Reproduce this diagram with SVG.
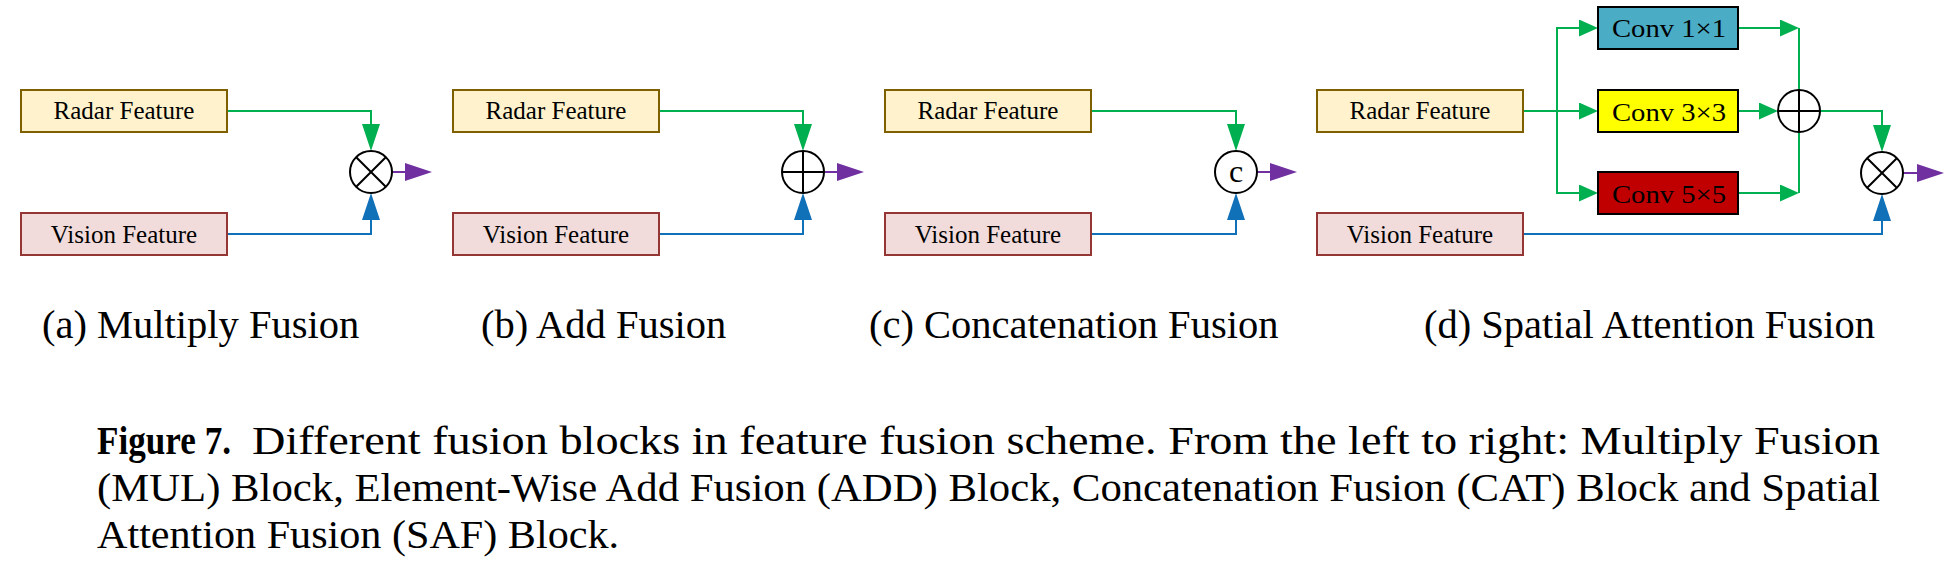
<svg xmlns="http://www.w3.org/2000/svg" width="1953" height="575" viewBox="0 0 1953 575">
<style>
.radar{fill:#FFF2CC;stroke:#7F6000;stroke-width:2}
.vision{fill:#F2DCDB;stroke:#943634;stroke-width:2}
.conv{stroke:#000;stroke-width:2}
.lbl{font-family:"Liberation Serif","Times New Roman",serif;font-size:25px;fill:#000;text-anchor:middle}
.clbl{font-family:"Liberation Serif","Times New Roman",serif;font-size:26px;fill:#000}
.op{fill:#fff;stroke:#000;stroke-width:2}
.opl{stroke:#000;stroke-width:2;fill:none}
.sub{font-family:"Liberation Serif","Times New Roman",serif;font-size:40.5px;fill:#000}
.cap{font-family:"Liberation Serif","Times New Roman",serif;font-size:40px;fill:#000}
.g{fill:none;stroke:#00B050;stroke-width:2}
.b{fill:none;stroke:#1070B8;stroke-width:2}
.p{fill:none;stroke:#7030A0;stroke-width:2}
</style>
<defs>
<marker id="ag" markerUnits="userSpaceOnUse" markerWidth="27" markerHeight="18" refX="24" refY="9" orient="auto"><path d="M0,0 L27,9 L0,18 z" fill="#00B050"/></marker>
<marker id="agh" markerUnits="userSpaceOnUse" markerWidth="19" markerHeight="17" refX="16" refY="8.5" orient="auto"><path d="M0,0 L19,8.5 L0,17 z" fill="#00B050"/></marker>
<marker id="ab" markerUnits="userSpaceOnUse" markerWidth="27" markerHeight="18" refX="24" refY="9" orient="auto"><path d="M0,0 L27,9 L0,18 z" fill="#1070B8"/></marker>
<marker id="ap" markerUnits="userSpaceOnUse" markerWidth="27" markerHeight="18" refX="24" refY="9" orient="auto"><path d="M0,0 L27,9 L0,18 z" fill="#7030A0"/></marker>
</defs>
<rect width="1953" height="575" fill="#fff"/>

<g id="connectors">
<path class="g" d="M227,111 H371 V148" marker-end="url(#ag)"/>
<path class="b" d="M227,234 H371 V196" marker-end="url(#ab)"/>
<path class="p" d="M392,172 H429" marker-end="url(#ap)"/>

<path class="g" d="M659,111 H803 V148" marker-end="url(#ag)"/>
<path class="b" d="M659,234 H803 V196" marker-end="url(#ab)"/>
<path class="p" d="M824,172 H861" marker-end="url(#ap)"/>

<path class="g" d="M1091,111 H1236 V148" marker-end="url(#ag)"/>
<path class="b" d="M1091,234 H1236 V196" marker-end="url(#ab)"/>
<path class="p" d="M1257,172 H1294" marker-end="url(#ap)"/>

<path class="g" d="M1523,111 H1595" marker-end="url(#agh)"/>
<path class="g" d="M1557,111 V28 H1595" marker-end="url(#agh)"/>
<path class="g" d="M1557,111 V193 H1595" marker-end="url(#agh)"/>
<path class="g" d="M1738,28 H1796" marker-end="url(#agh)"/>
<path class="g" d="M1738,193 H1796" marker-end="url(#agh)"/>
<path class="g" d="M1738,111 H1775" marker-end="url(#agh)"/>
<path class="g" d="M1799,28 V193"/>
<path class="g" d="M1820,111 H1882 V149" marker-end="url(#ag)"/>
<path class="b" d="M1523,234 H1882 V197" marker-end="url(#ab)"/>
<path class="p" d="M1903,173 H1941" marker-end="url(#ap)"/>
</g>

<g id="a-radar"><rect class="radar" x="21" y="90" width="206" height="42"/><text class="lbl" x="124" y="119">Radar Feature</text></g>
<g id="a-vision"><rect class="vision" x="21" y="213" width="206" height="42"/><text class="lbl" x="124" y="243">Vision Feature</text></g>
<g id="a-mul"><circle class="op" cx="371" cy="172" r="21"/><path class="opl" d="M356.2,157.2 L385.8,186.8 M385.8,157.2 L356.2,186.8"/></g>

<g id="b-radar"><rect class="radar" x="453" y="90" width="206" height="42"/><text class="lbl" x="556" y="119">Radar Feature</text></g>
<g id="b-vision"><rect class="vision" x="453" y="213" width="206" height="42"/><text class="lbl" x="556" y="243">Vision Feature</text></g>
<g id="b-add"><circle class="op" cx="803" cy="172" r="21"/><path class="opl" d="M782,172 H824 M803,151 V193"/></g>

<g id="c-radar"><rect class="radar" x="885" y="90" width="206" height="42"/><text class="lbl" x="988" y="119">Radar Feature</text></g>
<g id="c-vision"><rect class="vision" x="885" y="213" width="206" height="42"/><text class="lbl" x="988" y="243">Vision Feature</text></g>
<g id="c-cat"><circle class="op" cx="1236" cy="172" r="21"/><text class="lbl" x="1236" y="182" style="font-size:32px">c</text></g>

<g id="d-radar"><rect class="radar" x="1317" y="90" width="206" height="42"/><text class="lbl" x="1420" y="119">Radar Feature</text></g>
<g id="d-vision"><rect class="vision" x="1317" y="213" width="206" height="42"/><text class="lbl" x="1420" y="243">Vision Feature</text></g>
<g id="d-conv1"><rect class="conv" x="1598" y="7" width="140" height="42" fill="#4BACC6"/><text class="clbl" x="1612" y="37" textLength="114" lengthAdjust="spacingAndGlyphs">Conv 1×1</text></g>
<g id="d-conv3"><rect class="conv" x="1598" y="90" width="140" height="42" fill="#FFFF00"/><text class="clbl" x="1612" y="121" textLength="114" lengthAdjust="spacingAndGlyphs">Conv 3×3</text></g>
<g id="d-conv5"><rect class="conv" x="1598" y="172" width="140" height="42" fill="#C00000"/><text class="clbl" x="1612" y="203" textLength="114" lengthAdjust="spacingAndGlyphs">Conv 5×5</text></g>
<g id="d-add"><circle class="op" cx="1799" cy="111" r="21"/><path class="opl" d="M1778,111 H1820 M1799,90 V132"/></g>
<g id="d-mul"><circle class="op" cx="1882" cy="173" r="21"/><path class="opl" d="M1867.2,158.2 L1896.8,187.8 M1896.8,158.2 L1867.2,187.8"/></g>

<g id="subcaptions">
<text class="sub" x="42" y="338">(a) Multiply Fusion</text>
<text class="sub" x="481" y="338">(b) Add Fusion</text>
<text class="sub" x="869" y="338">(c) Concatenation Fusion</text>
<text class="sub" x="1424" y="338">(d) Spatial Attention Fusion</text>
</g>

<g id="caption">
<text class="cap" x="97" y="454" font-weight="bold" textLength="134" lengthAdjust="spacingAndGlyphs">Figure 7.</text>
<text class="cap" x="252" y="454" textLength="1628" lengthAdjust="spacingAndGlyphs">Different fusion blocks in feature fusion scheme.  From the left to right: Multiply Fusion</text>
<text class="cap" x="97" y="501" textLength="1783" lengthAdjust="spacingAndGlyphs">(MUL) Block, Element-Wise Add Fusion (ADD) Block, Concatenation Fusion (CAT) Block and Spatial</text>
<text class="cap" x="97" y="548" textLength="522" lengthAdjust="spacingAndGlyphs">Attention Fusion (SAF) Block.</text>
</g>
</svg>
